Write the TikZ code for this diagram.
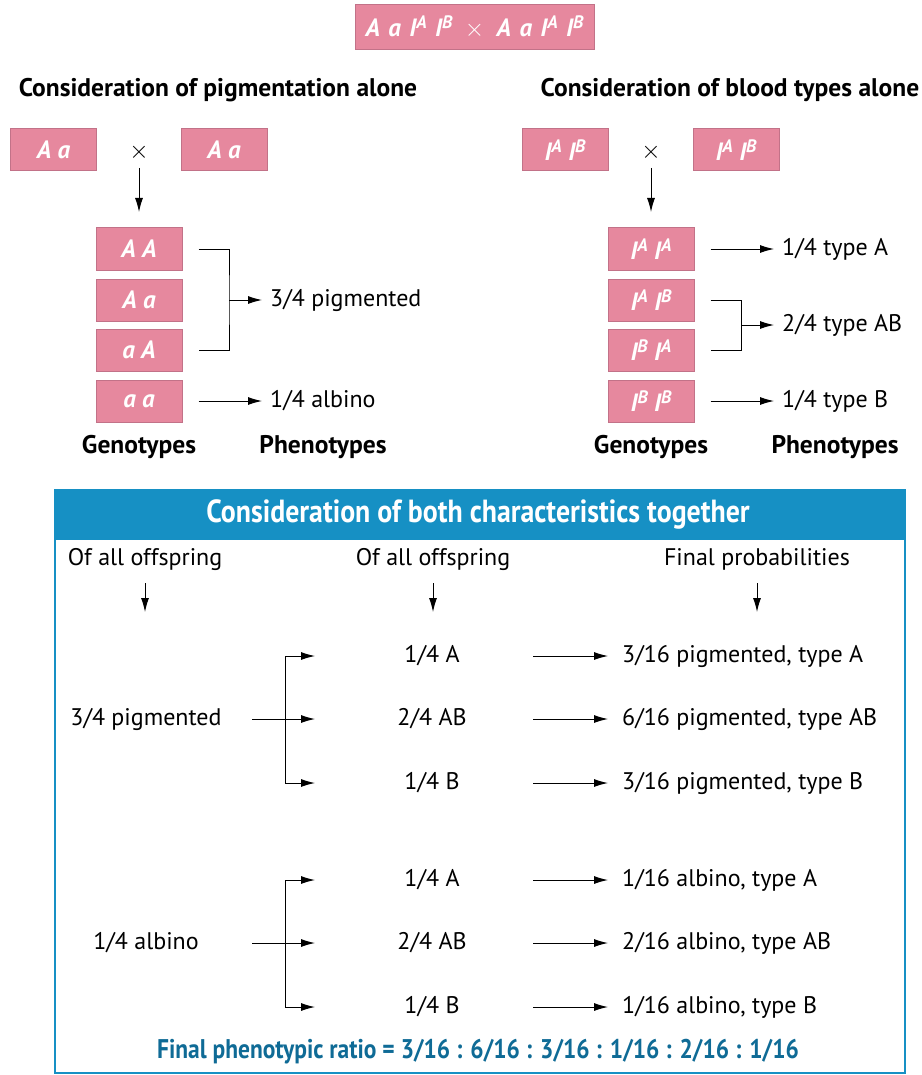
\documentclass[tikz,border=0pt]{standalone}
\usepackage{fontspec}
\setmainfont{PT Sans}
\usetikzlibrary{arrows.meta}

\definecolor{genopink}{HTML}{E6889E}
\definecolor{genoedge}{HTML}{C27288}
\definecolor{panelblue}{HTML}{1690C4}
\definecolor{ratioblue}{HTML}{0F6B96}

\newcommand{\allele}[2]{#1\raisebox{0.33em}{\scalebox{0.72}{#2}}}

\tikzset{
  geno/.style={draw=genoedge, fill=genopink, line width=1pt, minimum width=86pt,
    minimum height=42pt, inner sep=0pt, text=white,
    font=\fontsize{25}{28}\selectfont\bfseries\itshape},
  lbl/.style={inner sep=0pt, font=\fontsize{24}{28}\selectfont},
  ttl/.style={inner sep=0pt, font=\fontsize{25.5}{30}\selectfont\bfseries},
  arr/.style={-{Latex[length=14pt,width=8pt]}, line width=1pt},
  link/.style={line width=1pt}
}

\begin{document}
\begin{tikzpicture}[x=1pt,y=-1pt]
\useasboundingbox (0,0) rectangle (921,1075);
\fill[white] (0,0) rectangle (921,1075);

% the cross
\node[geno, minimum width=239pt, minimum height=45pt] (cross) at (474.5,27.5)
  {A\,\,a\,\,\allele{I}{A}\,\,\allele{I}{B}\,\,\,$\times$\,\,\,A\,\,a\,\,\allele{I}{A}\,\,\allele{I}{B}};

\node[ttl] (pigtitle) at (218,90) {Consideration of pigmentation alone};
\node[ttl] (bloodtitle) at (730,90) {Consideration of blood types alone};

% pigmentation alone
\node[geno] (pa) at (53.5,150) {A a};
\node[lbl, font=\fontsize{26}{30}\selectfont] (px) at (139,152) {$\times$};
\node[geno] (pb) at (224,150) {A a};
\coordinate (pdown) at (139,212);
\draw[arr] ([yshift=-16pt]px.center) -- (pdown);

\foreach \n/\y/\t in {gAA/249/{A A},gAa/300/{A a},gaA/350/{a A},gaa/401/{a a}}
  \node[geno] (\n) at (139,\y) {\t};

\node[lbl, anchor=west] (pig) at (270,300) {3/4 pigmented};
\node[lbl, anchor=west] (alb) at (270,401) {1/4 albino};
\coordinate (lbrk) at (229,300);
\draw[link] ([xshift=16pt]gAA.east) -| (lbrk) |- ([xshift=16pt]gaA.east);
\draw[arr] (lbrk) -- ([xshift=-8pt]pig.west);
\draw[arr] ([xshift=16pt]gaa.east) -- ([xshift=-8pt]alb.west);

\node[ttl] (lgeno) at (139,447) {Genotypes};
\node[ttl] (lpheno) at (323,447) {Phenotypes};

% blood types alone
\node[geno] (ba) at (565,150) {\allele{I}{A} \allele{I}{B}};
\node[lbl, font=\fontsize{26}{30}\selectfont] (bx) at (651,152) {$\times$};
\node[geno] (bb) at (736,150) {\allele{I}{A} \allele{I}{B}};
\coordinate (bdown) at (651,212);
\draw[arr] ([yshift=-16pt]bx.center) -- (bdown);

\foreach \n/\y/\t in {gIAIA/249/{\allele{I}{A} \allele{I}{A}},gIAIB/300/{\allele{I}{A} \allele{I}{B}},
                      gIBIA/350/{\allele{I}{B} \allele{I}{A}},gIBIB/401/{\allele{I}{B} \allele{I}{B}}}
  \node[geno] (\n) at (651,\y) {\t};

\node[lbl, anchor=west] (tA) at (782,249) {1/4 type A};
\node[lbl, anchor=west] (tAB) at (782,325) {2/4 type AB};
\node[lbl, anchor=west] (tB) at (782,401) {1/4 type B};
\coordinate (rbrk) at (741,325);
\draw[arr] ([xshift=16pt]gIAIA.east) -- ([xshift=-8pt]tA.west);
\draw[link] ([xshift=16pt]gIAIB.east) -| (rbrk) |- ([xshift=16pt]gIBIA.east);
\draw[arr] (rbrk) -- ([xshift=-8pt]tAB.west);
\draw[arr] ([xshift=16pt]gIBIB.east) -- ([xshift=-8pt]tB.west);

\node[ttl] (rgeno) at (651,447) {Genotypes};
\node[ttl] (rpheno) at (835,447) {Phenotypes};

% both together
\draw[panelblue, line width=2pt] (55,490) rectangle (905,1073);
\fill[panelblue] (55,490) rectangle (905,540);
\node[ttl, text=white, font=\fontsize{32}{36}\selectfont\bfseries\addfontfeatures{FakeStretch=0.87}]
  (bothtitle) at (478,514) {Consideration of both characteristics together};

\foreach \n/\x/\t in {hl/145/{Of all offspring},hm/433/{Of all offspring},hr/757/{Final probabilities}} {
  \node[lbl] (\n) at (\x,559) {\t};
  \coordinate (\n down) at (\x,612);
  \draw[arr] ([yshift=-24pt]\n.center) -- (\n down);
}

\foreach \g/\y/\t in {p/719/{3/4 pigmented},b/943/{1/4 albino}} {
  \node[lbl] (\g src) at (146,\y) {\t};
  \coordinate (\g start) at (252,\y);
  \coordinate (\g fork) at (285,\y);
  \draw[link] (\g start) -- (\g fork);
  \foreach \k/\dy/\m in {1/-63/{1/4 A},2/0/{2/4 AB},3/64/{1/4 B}} {
    \node[lbl] (\g m\k) at (432,\y+\dy) {\m};
    \coordinate (\g tip\k) at (315,\y+\dy);
    \draw[arr] (\g fork |- \g tip\k) -- (\g tip\k);
  }
  \draw[link] (\g fork |- \g tip1) -- (\g fork |- \g tip3);
}

\node[lbl, anchor=west] (pf1) at (622,656) {3/16 pigmented, type A};
\node[lbl, anchor=west] (pf2) at (622,719) {6/16 pigmented, type AB};
\node[lbl, anchor=west] (pf3) at (622,783) {3/16 pigmented, type B};
\node[lbl, anchor=west] (bf1) at (622,880) {1/16 albino, type A};
\node[lbl, anchor=west] (bf2) at (622,943) {2/16 albino, type AB};
\node[lbl, anchor=west] (bf3) at (622,1007) {1/16 albino, type B};
\foreach \g in {p,b}
  \foreach \k in {1,2,3}
    \draw[arr] (533,0 |- \g m\k) -- ([xshift=-14pt]\g f\k.west);

\node[ttl, text=ratioblue, font=\fontsize{27}{30}\selectfont\bfseries\addfontfeatures{FakeStretch=0.87}]
  (ratio) at (478,1052) {Final phenotypic ratio = 3/16 : 6/16 : 3/16 : 1/16 : 2/16 : 1/16};
\end{tikzpicture}
\end{document}
